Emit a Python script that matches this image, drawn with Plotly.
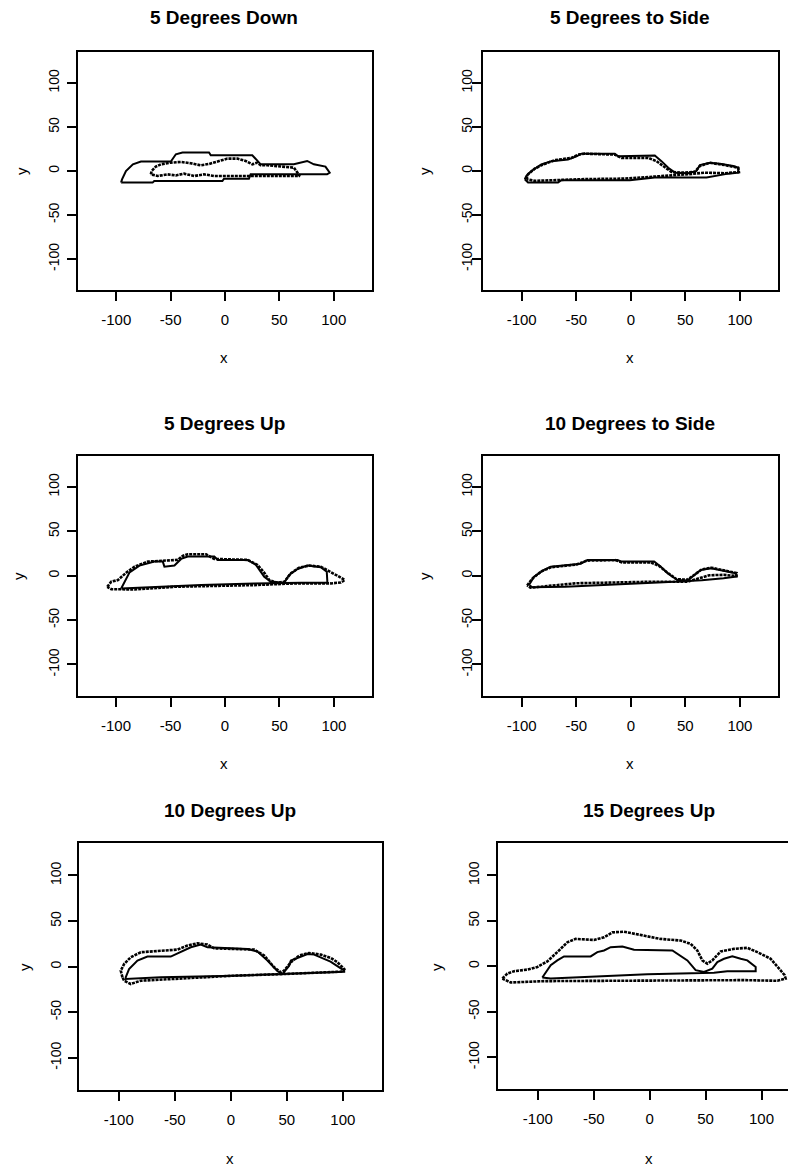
import plotly.graph_objects as go

# ---- outline data (x, y) for each view; solid = reference outline, dotted = traced outline ----
down5_solid_x = [-95.6, -94.7, -91.1, -84.7, -77.3, -49.8, -45.2, -39.1, -14.7, -13.1, 25.1, 29.7, 32.8, 63.3, 75.6, 81.7, 92.4, 96.3, 93.9, 23.6, 22.0, -0.9, -2.4, -65.1, -66.6, -95.6]
down5_solid_y = [-13.2, -9.5, 0.0, 7.6, 10.7, 10.7, 19.0, 21.0, 21.0, 17.9, 17.9, 11.4, 7.6, 7.6, 11.4, 7.6, 5.0, -1.9, -3.8, -3.8, -8.7, -8.7, -11.4, -11.4, -13.2, -13.2]
down5_dot_x = [-68.2, -67.5, -63.6, -59.0, -49.8, -40.6, -31.5, -22.3, -14.7, -7.0, 2.2, 11.4, 19.0, 25.1, 29.7, 32.8, 39.0, 63.3, 66.4, 68.8, -10.0, -19.3, -28.4, -37.6, -45.2, -52.8, -62.0, -68.2]
down5_dot_y = [-3.8, 0.0, 5.0, 7.6, 9.5, 10.3, 8.8, 6.5, 8.0, 11.1, 14.1, 14.1, 11.4, 7.6, 9.5, 6.5, 6.5, 3.8, -1.9, -5.7, -5.7, -3.8, -5.7, -3.0, -5.0, -3.8, -5.7, -3.8]

side5_solid_x = [-97.2, -95.7, -91.1, -82.0, -72.8, -57.5, -49.8, -45.3, -14.7, -11.6, 22.0, 28.1, 34.3, 40.4, 52.6, 60.2, 63.3, 72.5, 81.7, 93.9, 98.5, 98.5, 89.3, 70.9, 69.4, 22.0, -0.9, -63.6, -66.7, -94.2, -97.2]
side5_solid_y = [-9.3, -5.6, 0.0, 7.4, 11.2, 13.0, 16.7, 19.7, 19.7, 16.7, 17.5, 11.2, 3.7, -1.9, -2.6, 0.0, 6.7, 9.3, 8.2, 5.6, 3.7, -1.9, -3.0, -6.3, -7.4, -7.4, -10.4, -10.4, -13.0, -13.0, -9.3]
side5_dot_x = [-95.7, -94.2, -88.1, -80.4, -69.7, -54.4, -48.3, -42.2, -14.7, -8.6, 15.9, 23.5, 29.7, 37.3, 46.5, 58.7, 63.3, 72.5, 86.2, 98.5, 99.1, 86.2, 67.9, 52.6, 22.0, -5.5, -45.3, -69.7, -88.1, -95.7]
side5_dot_y = [-9.3, -3.7, 2.6, 7.4, 12.3, 14.9, 18.6, 19.7, 18.6, 14.9, 14.9, 11.2, 5.6, -1.1, -1.9, -1.1, 5.6, 9.3, 6.7, 3.7, -1.1, -2.6, -1.9, -3.7, -6.3, -8.6, -9.3, -10.4, -11.2, -9.3]

up5_solid_x = [-95.3, -91.6, -87.6, -78.5, -64.7, -57.1, -55.6, -46.4, -40.3, -34.2, -9.8, -6.7, 20.8, 28.4, 36.0, 42.1, 54.4, 58.9, 66.6, 75.7, 87.9, 93.4, 94.0, 69.6, 26.9, -22.0, -52.5, -76.9, -95.3]
up5_solid_y = [-14.4, -4.9, 3.8, 11.4, 15.9, 15.9, 10.2, 11.4, 18.9, 21.6, 21.6, 17.8, 17.8, 12.1, -1.1, -6.8, -8.0, 0.8, 7.6, 11.4, 9.5, 4.5, -8.0, -8.0, -8.7, -10.6, -12.5, -13.6, -14.4]
up5_dot_x = [-108.1, -104.4, -98.3, -90.7, -83.0, -70.8, -43.4, -38.8, -34.2, -17.4, -9.8, 20.8, 29.9, 36.0, 40.6, 48.2, 54.4, 60.5, 68.1, 77.3, 87.9, 97.1, 104.7, 109.9, 106.3, 97.1, 63.5, 26.9, -22.0, -46.4, -83.0, -104.4, -108.1]
up5_dot_y = [-12.5, -6.8, -4.9, 3.4, 10.2, 15.9, 17.8, 22.3, 24.2, 24.2, 18.9, 17.8, 12.1, 3.4, -4.9, -8.0, -6.8, 2.7, 9.1, 11.4, 10.2, 4.5, -1.1, -4.9, -7.6, -8.7, -8.7, -10.6, -11.7, -12.5, -15.5, -15.2, -12.5]

side10_solid_x = [-93.3, -88.7, -79.5, -73.4, -45.9, -39.7, -12.2, -9.2, 21.4, 27.5, 33.7, 42.8, 52.0, 58.1, 64.2, 73.4, 88.7, 96.3, 96.3, 85.0, 65.0, 52.0, 30.0, 0.0, -30.0, -60.0, -90.0, -93.3]
side10_solid_y = [-10.6, -1.1, 6.5, 10.2, 13.5, 17.8, 17.8, 16.0, 16.0, 10.2, 2.7, -4.9, -5.5, 0.8, 6.5, 8.4, 4.5, 2.7, -1.1, -3.0, -5.0, -6.0, -7.5, -9.0, -11.0, -12.5, -13.0, -10.6]
side10_dot_x = [-95.0, -90.0, -82.0, -73.0, -50.0, -40.0, -14.0, -8.0, 18.0, 26.0, 34.0, 42.0, 52.0, 59.0, 65.0, 74.0, 88.0, 97.0, 97.0, 85.0, 72.0, 62.0, 52.0, 20.0, -20.0, -50.0, -75.0, -92.0, -95.0]
side10_dot_y = [-11.0, -3.0, 5.0, 9.5, 12.5, 17.0, 17.5, 15.0, 15.0, 11.0, 3.0, -4.0, -4.5, 1.5, 7.0, 9.0, 5.0, 3.0, -0.5, 1.0, 0.5, -3.0, -6.8, -6.8, -7.5, -8.5, -11.5, -13.5, -11.0]

up10_solid_x = [-93.8, -90.8, -83.3, -74.4, -53.6, -44.6, -35.7, -26.8, -20.8, 14.9, 23.8, 32.7, 41.7, 46.1, 52.1, 53.6, 62.5, 68.5, 74.4, 80.4, 89.0, 101.2, 101.2, 3.0, -62.5, -93.8, -93.8]
up10_solid_y = [-11.7, -2.6, 6.6, 11.0, 11.0, 15.8, 21.2, 24.2, 21.2, 19.4, 16.5, 6.6, -5.1, -8.1, 1.1, 6.6, 11.0, 13.9, 13.2, 10.3, 5.5, -4.4, -5.5, -9.9, -11.7, -13.6, -11.7]
up10_dot_x = [-96.7, -98.2, -95.2, -89.3, -80.4, -62.5, -47.6, -38.7, -29.8, -20.8, -14.9, 20.8, 29.8, 38.7, 44.6, 47.6, 53.6, 61.0, 69.9, 80.4, 89.3, 95.2, 101.2, 98.2, 71.4, 47.6, 3.0, -56.5, -80.4, -89.3, -95.2, -96.7]
up10_dot_y = [-11.7, -4.4, 2.9, 10.3, 15.8, 17.6, 18.7, 23.1, 25.6, 24.2, 20.1, 18.7, 12.1, -0.7, -6.2, -4.4, 4.8, 12.1, 15.0, 13.2, 9.5, 4.8, -2.6, -5.5, -7.3, -8.1, -9.9, -13.6, -15.4, -19.0, -15.4, -11.7]

up15_solid_x = [-96.0, -93.0, -88.5, -82.6, -76.6, -52.8, -46.8, -40.8, -34.9, -24.4, -14.0, 20.3, 24.7, 33.7, 41.1, 48.6, 56.0, 60.5, 66.5, 73.9, 81.4, 87.3, 94.8, 94.8, 69.4, 57.5, -2.1, -64.7, -88.5, -96.0]
up15_solid_y = [-12.3, -7.2, 1.1, 6.5, 10.9, 10.9, 15.6, 17.4, 21.0, 21.7, 18.1, 17.4, 13.8, 6.5, -4.3, -6.2, -2.5, 4.7, 8.3, 10.9, 8.3, 6.5, -0.7, -5.4, -5.4, -7.2, -8.7, -11.6, -13.4, -12.3]
up15_dot_x = [-131.7, -127.3, -121.3, -109.4, -100.4, -91.5, -82.6, -73.6, -66.2, -49.8, -40.8, -33.4, -23.0, -8.0, 9.8, 27.7, 36.7, 42.6, 47.1, 51.6, 56.0, 63.5, 75.4, 87.3, 96.3, 108.2, 114.2, 120.7, 121.6, 114.2, 84.4, -20.0, -94.5, -124.3, -131.7]
up15_dot_y = [-13.4, -8.0, -5.4, -3.6, -0.7, 5.4, 15.6, 26.4, 30.1, 29.0, 31.9, 37.3, 38.0, 34.4, 30.1, 28.3, 24.6, 17.4, 6.5, 2.9, 6.5, 16.3, 19.2, 20.3, 15.6, 8.3, -0.7, -9.8, -13.4, -15.9, -15.2, -16.3, -16.3, -17.8, -13.4]

titles = ["5 Degrees Down", "5 Degrees to Side", "5 Degrees Up",
          "10 Degrees to Side", "10 Degrees Up", "15 Degrees Up"]
tick_vals = [-100, -50, 0, 50, 100]
tick_text = ["-100", "-50", "0", "50", "100"]

panels = [
    (down5_solid_x, down5_solid_y, down5_dot_x, down5_dot_y),
    (side5_solid_x, side5_solid_y, side5_dot_x, side5_dot_y),
    (up5_solid_x, up5_solid_y, up5_dot_x, up5_dot_y),
    (side10_solid_x, side10_solid_y, side10_dot_x, side10_dot_y),
    (up10_solid_x, up10_solid_y, up10_dot_x, up10_dot_y),
    (up15_solid_x, up15_solid_y, up15_dot_x, up15_dot_y),
]

# ---- page layout in pixels ----
W, H = 788, 1169
# plot boxes: left, right, top, bottom
boxes = [
    (78.0, 372.0, 52.0, 290.0),
    (483.3, 778.3, 52.0, 290.0),
    (77.7, 372.3, 455.7, 695.7),
    (483.3, 778.3, 455.7, 695.7),
    (79.3, 382.3, 843.3, 1090.0),
    (497.7, 788.0, 843.3, 1089.3),
]
x_ranges = [[-135.2, 135.2]] * 5 + [[-135.9, 123.7]]
y_range = [-135.2, 135.2]
# centres of title, x label and y label per panel
title_pos = [(224, 18), (629, 18), (224, 423), (630, 423), (230, 810), (649, 810)]
xlab_pos = [(224, 358), (630, 358), (224, 763), (630, 763), (230, 1158), (649, 1158)]
ylab_pos = [(21, 171), (424, 171), (18, 576), (424, 576), (24, 967), (436, 967)]
ylabel_standoff = [2, -5, 2, -5, 2, 2]

FONT = "Liberation Sans, Arial, Helvetica, sans-serif"

fig = go.Figure()
layout = dict(
    width=W, height=H, margin=dict(l=0, r=0, t=0, b=0),
    paper_bgcolor="white", plot_bgcolor="white", showlegend=False,
    font=dict(family=FONT, color="black"),
)
annotations = []

for i, ((sx, sy, dx, dy), (l, r, t, b)) in enumerate(zip(panels, boxes)):
    n = i + 1
    xa = "x" if n == 1 else f"x{n}"
    ya = "y" if n == 1 else f"y{n}"
    fig.add_trace(go.Scatter(x=sx, y=sy, mode="lines", xaxis=xa, yaxis=ya,
                             line=dict(color="black", width=2), hoverinfo="skip"))
    fig.add_trace(go.Scatter(x=dx, y=dy, mode="lines", xaxis=xa, yaxis=ya,
                             line=dict(color="black", width=2.6, dash="3px,1px"),
                             hoverinfo="skip"))
    xkey = "xaxis" if n == 1 else f"xaxis{n}"
    ykey = "yaxis" if n == 1 else f"yaxis{n}"
    layout[xkey] = dict(
        domain=[l / W, r / W], range=x_ranges[i], anchor=ya,
        showgrid=False, zeroline=False, showline=True, mirror=True,
        linecolor="black", linewidth=2,
        ticks="outside", ticklen=9, tickwidth=2, tickcolor="black",
        tickvals=tick_vals, ticktext=tick_text, ticklabelstandoff=6,
        tickfont=dict(family=FONT, size=15, color="black"),
    )
    layout[ykey] = dict(
        domain=[1 - b / H, 1 - t / H], range=y_range, anchor=xa,
        showgrid=False, zeroline=False, showline=True, mirror=(n != 6),
        linecolor="black", linewidth=2,
        ticks="outside", ticklen=9, tickwidth=2, tickcolor="black",
        tickvals=tick_vals, ticktext=tick_text, tickangle=-90,
        ticklabelstandoff=ylabel_standoff[i],
        tickfont=dict(family=FONT, size=14, color="black"),
    )
    tx, ty = title_pos[i]
    annotations.append(dict(text=f"<b>{titles[i]}</b>", x=tx / W, y=1 - ty / H,
                            xref="paper", yref="paper", showarrow=False,
                            xanchor="center", yanchor="middle",
                            font=dict(family=FONT, size=19, color="black")))
    lx, ly = xlab_pos[i]
    annotations.append(dict(text="x", x=lx / W, y=1 - ly / H,
                            xref="paper", yref="paper", showarrow=False,
                            xanchor="center", yanchor="middle",
                            font=dict(family=FONT, size=15, color="black")))
    yx, yy = ylab_pos[i]
    annotations.append(dict(text="y", x=yx / W, y=1 - yy / H, textangle=-90,
                            xref="paper", yref="paper", showarrow=False,
                            xanchor="center", yanchor="middle",
                            font=dict(family=FONT, size=15, color="black")))

layout["annotations"] = annotations
fig.update_layout(**layout)
fig.write_html("out.html")
